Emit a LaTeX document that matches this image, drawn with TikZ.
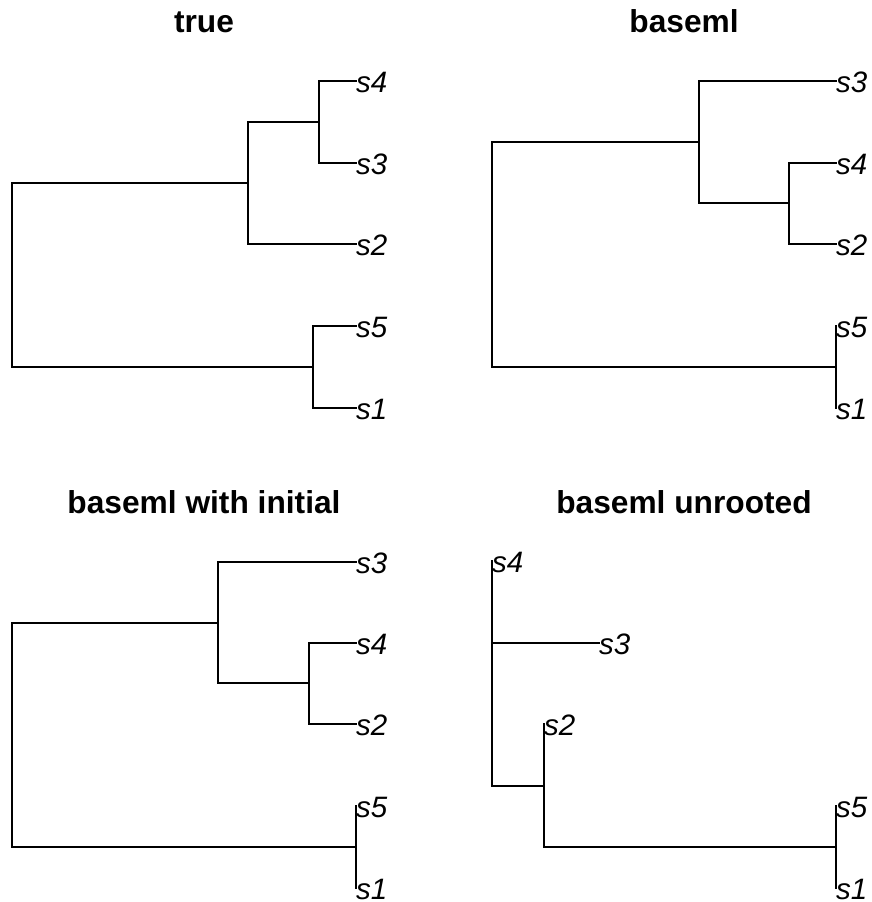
\documentclass[tikz,border=0pt]{standalone}
\usepackage{fontspec}
\setmainfont{Liberation Sans}
\usetikzlibrary{positioning}
\tikzset{
	edge/.style={draw, black, line width=1.8pt, line cap=rect},
	% tip labels sit on the end of their branch
	tiplab/.style={anchor=base west, inner sep=0pt, yshift=-11.5pt, font=\fontsize{29.5}{32}\selectfont\itshape},
	title/.style={anchor=base, inner sep=0pt, font=\fontsize{31.7}{36}\selectfont\bfseries},
}

\begin{document}
\begin{tikzpicture}[x=1pt, y=-1pt]
		\useasboundingbox (0,0) rectangle (872,902);
		
		\node (ttrue) [title] at (204,32) {true};
		\node (tbase) [title] at (684,32) {baseml};
		\node (tinit) [title] at (204,513) {baseml with initial};
		\node (tunroot) [title] at (684,513) {baseml unrooted};
		
		% true
		\coordinate (R1) at (12,275);
		\coordinate (A1) at (248,183);
		\coordinate (B1) at (319,122);
		\coordinate (C1) at (313,367);
		\coordinate (t1s4) at (356,81);
		\coordinate (t1s3) at (356,163);
		\coordinate (t1s2) at (356,244);
		\coordinate (t1s5) at (356,326);
		\coordinate (t1s1) at (356,408);
		
		% baseml
		\coordinate (R2) at (492,254);
		\coordinate (A2) at (699,142);
		\coordinate (B2) at (789,203);
		\coordinate (C2) at (836,367);
		\coordinate (t2s3) at (836,81);
		\coordinate (t2s4) at (836,163);
		\coordinate (t2s2) at (836,244);
		\coordinate (t2s5) at (836,326);
		\coordinate (t2s1) at (836,408);
		
		% baseml with initial
		\coordinate (R3) at (12,735);
		\coordinate (A3) at (218,623);
		\coordinate (B3) at (309,683);
		\coordinate (C3) at (356,847);
		\coordinate (t3s3) at (356,562);
		\coordinate (t3s4) at (356,643);
		\coordinate (t3s2) at (356,724);
		\coordinate (t3s5) at (356,806);
		\coordinate (t3s1) at (356,888);
		
		% baseml unrooted
		\coordinate (P4) at (492,643);
		\coordinate (Q4) at (544,786);
		\coordinate (C4) at (836,847);
		\coordinate (t4s4) at (492,561);
		\coordinate (t4s3) at (599,643);
		\coordinate (t4s2) at (544,724);
		\coordinate (t4s5) at (836,806);
		\coordinate (t4s1) at (836,888);
		
		\begin{scope}[edge]
			\draw (A1) -| (R1) |- (C1);
			\draw (B1) -| (A1) |- (t1s2);
			\draw (t1s4) -| (B1) |- (t1s3);
			\draw (t1s5) -| (C1) |- (t1s1);
			
			\draw (A2) -| (R2) |- (C2);
			\draw (t2s3) -| (A2) |- (B2);
			\draw (t2s4) -| (B2) |- (t2s2);
			\draw (t2s5) -- (t2s1);
			
			\draw (A3) -| (R3) |- (C3);
			\draw (t3s3) -| (A3) |- (B3);
			\draw (t3s4) -| (B3) |- (t3s2);
			\draw (t3s5) -- (t3s1);
			
			\draw (t4s4) |- (Q4);
			\draw (P4) -- (t4s3);
			\draw (t4s2) |- (C4);
			\draw (t4s5) -- (t4s1);
		\end{scope}
		
		\node (l1s4) [tiplab] at (t1s4) {s4};
		\node (l1s3) [tiplab] at (t1s3) {s3};
		\node (l1s2) [tiplab] at (t1s2) {s2};
		\node (l1s5) [tiplab] at (t1s5) {s5};
		\node (l1s1) [tiplab] at (t1s1) {s1};
		
		\node (l2s3) [tiplab] at (t2s3) {s3};
		\node (l2s4) [tiplab] at (t2s4) {s4};
		\node (l2s2) [tiplab] at (t2s2) {s2};
		\node (l2s5) [tiplab] at (t2s5) {s5};
		\node (l2s1) [tiplab] at (t2s1) {s1};
		
		\node (l3s3) [tiplab] at (t3s3) {s3};
		\node (l3s4) [tiplab] at (t3s4) {s4};
		\node (l3s2) [tiplab] at (t3s2) {s2};
		\node (l3s5) [tiplab] at (t3s5) {s5};
		\node (l3s1) [tiplab] at (t3s1) {s1};
		
		\node (l4s4) [tiplab] at (t4s4) {s4};
		\node (l4s3) [tiplab] at (t4s3) {s3};
		\node (l4s2) [tiplab] at (t4s2) {s2};
		\node (l4s5) [tiplab] at (t4s5) {s5};
		\node (l4s1) [tiplab] at (t4s1) {s1};
	\end{tikzpicture}
\end{document}
